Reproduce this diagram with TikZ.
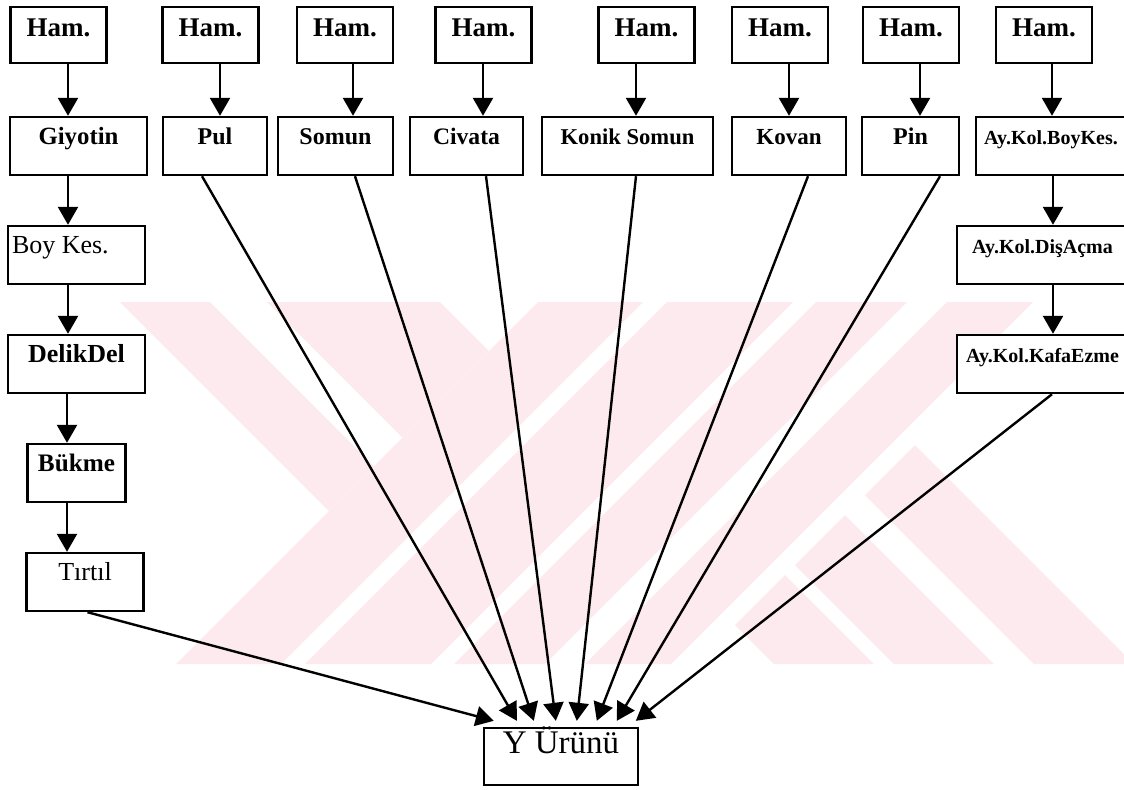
\documentclass[tikz,border=0pt]{standalone}
\usepackage{fontspec}
\setmainfont{Liberation Serif}
\usetikzlibrary{arrows.meta}
\definecolor{filigran}{RGB}{252,234,238}

\begin{document}
\begin{tikzpicture}[x=0.5pt, y=-0.5pt, node distance=54.5pt,
	kutu/.style={draw, line width=1.2pt, fill=white, inner sep=0pt, text height=13.5pt, text depth=15.5pt, font=\bfseries\fontsize{12}{14}\selectfont},
	ham/.style={kutu, minimum width=48pt, text height=14.5pt, text depth=13.5pt, font=\bfseries\fontsize{13.5}{16}\selectfont},
	ok/.style={line width=1.2pt, -{Triangle[width=10pt,length=9pt]}}]
	\useasboundingbox (0,0) rectangle (1124,789);
	
	% Background mark
	\begin{scope}
		\clip (120,302) rectangle (1124,664);
		\fill[filigran] (120,302) -- (210,302) -- (374,466) -- (329,511) -- cycle;
		\fill[filigran] (267,302) -- (440,302) -- (489,351) -- (402.5,437.5) -- cycle;
		\fill[filigran] (538,302) -- (643,302) -- (281,664) -- (176,664) -- cycle;
		\fill[filigran] (667,302) -- (793,302) -- (431,664) -- (305,664) -- cycle;
		\fill[filigran] (816,302) -- (907,302) -- (545,664) -- (454,664) -- cycle;
		\fill[filigran] (947,302) -- (1033,302) -- (671,664) -- (585,664) -- cycle;
		\fill[filigran] (735,625) -- (785,575) -- (874,664) -- (774,664) -- cycle;
		\fill[filigran] (795,565) -- (845,515) -- (994,664) -- (894,664) -- cycle;
		\fill[filigran] (865,495) -- (915,445) -- (1134,664) -- (1034,664) -- cycle;
	\end{scope}
	
	% Raw material
	\node[ham] (ham1) at (58.5,35) {Ham.};
	\node[ham] (ham2) at (210.5,35) {Ham.};
	\node[ham] (ham3) at (345,35) {Ham.};
	\node[ham] (ham4) at (483.5,35) {Ham.};
	\node[ham] (ham5) at (646.5,35) {Ham.};
	\node[ham] (ham6) at (780,35) {Ham.};
	\node[ham] (ham7) at (911,35) {Ham.};
	\node[ham] (ham8) at (1044,35) {Ham.};
	
	% Parts
	\node[kutu, minimum width=68.5pt, font=\bfseries\fontsize{12.4}{14}\selectfont] (giyotin) at (78.5,146) {Giyotin};
	\node[kutu, minimum width=52pt] (pul) at (215,146) {Pul};
	\node[kutu, minimum width=57.5pt] (somun) at (335.5,146) {Somun};
	\node[kutu, minimum width=56.5pt, font=\bfseries\fontsize{11.8}{14}\selectfont] (civata) at (466.5,146) {Civata};
	\node[kutu, minimum width=85.5pt, font=\bfseries\fontsize{11.3}{13}\selectfont] (konik) at (627.5,146) {Konik Somun};
	\node[kutu, minimum width=57pt, font=\bfseries\fontsize{11.5}{13}\selectfont] (kovan) at (789,146) {Kovan};
	\node[kutu, minimum width=48.5pt] (pin) at (910.5,146) {Pin};
	\node[kutu, minimum width=75pt, font=\bfseries\fontsize{10}{12}\selectfont] (aykes) at (1051,146) {Ay.Kol.BoyKes.};
	
	\node[kutu, minimum width=68.5pt, font=\fontsize{13}{15}\selectfont] (boykes) [below of=giyotin, xshift=-1pt] {\makebox[68.5pt][l]{\hspace{2pt}Boy Kes.}};
	\node[kutu, minimum width=68.5pt, font=\bfseries\fontsize{13}{15}\selectfont] (delik) [below of=boykes] {DelikDel};
	\node[kutu, minimum width=49pt, font=\bfseries\fontsize{12.6}{15}\selectfont] (bukme) [below of=delik] {Bükme};
	\node[kutu, minimum width=58.5pt, font=\fontsize{13}{15}\selectfont] (tirtil) [below of=bukme, xshift=4.25pt] {Tırtıl};
	
	\node[kutu, minimum width=85.5pt, font=\bfseries\fontsize{10}{12}\selectfont] (aydis) [below of=aykes, xshift=-4.25pt] {Ay.Kol.DişAçma};
	\node[kutu, minimum width=85.5pt, font=\bfseries\fontsize{10}{12}\selectfont] (aykafa) [below of=aydis] {Ay.Kol.KafaEzme};
	
	\node[kutu, minimum width=77pt, text height=12.5pt, text depth=16pt, font=\fontsize{16.5}{19}\selectfont] (urun) at (561,756.5) {Y Ürünü};
	
	% Arrows
	\foreach \a/\b/\x in {ham1/giyotin/68, giyotin/boykes/68, boykes/delik/68, delik/bukme/67, bukme/tirtil/67,
		ham2/pul/220, ham3/somun/353, ham4/civata/483, ham5/konik/636, ham6/kovan/789, ham7/pin/920,
		ham8/aykes/1052, aykes/aydis/1053, aydis/aykafa/1053}{
		\coordinate (k) at (\x,0);
		\draw[ok] (\a.south -| k) -- (\b.north -| k);
	}
	\foreach \a/\s/\t in {tirtil/2.5/11, pul/-13/34, somun/19.5/51, civata/19.5/73, konik/8.5/94, kovan/19/114, pin/29.5/134, aykafa/9.5/153}
		\draw[ok] ([shift={(\s,0)}]\a.south) -- ([shift={(\t,-6)}]urun.north west);
\end{tikzpicture}
\end{document}
